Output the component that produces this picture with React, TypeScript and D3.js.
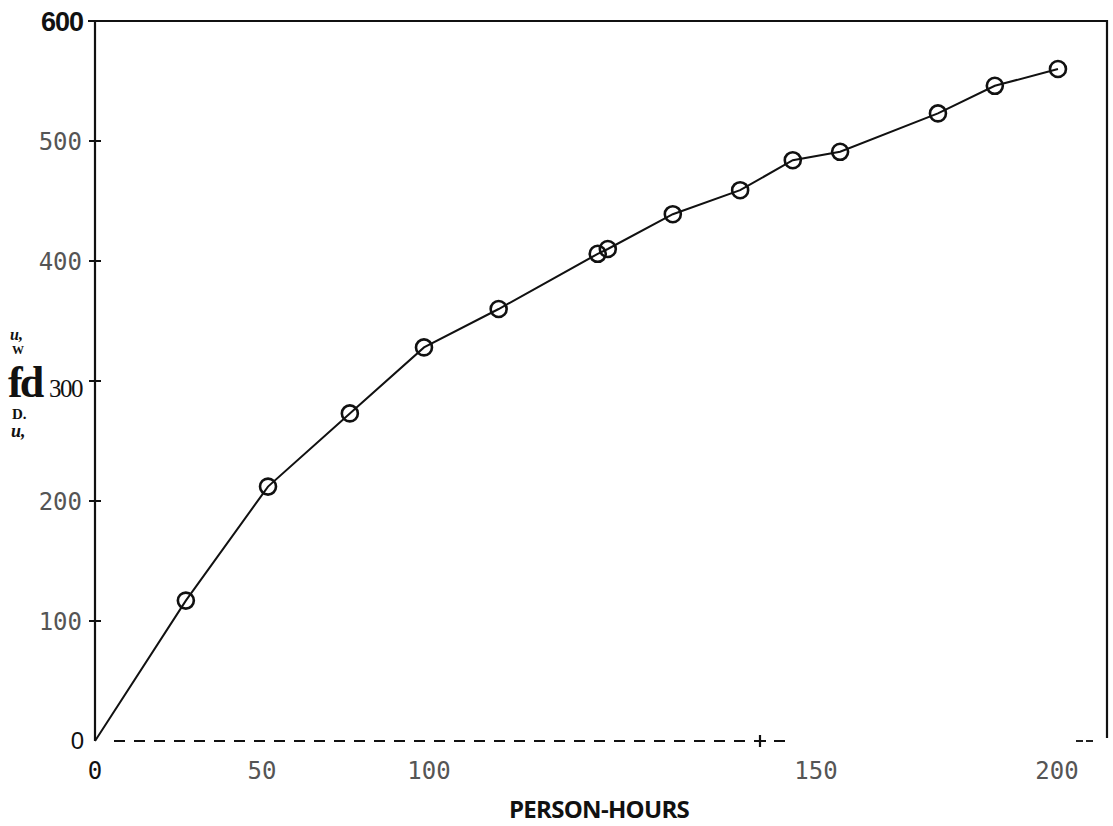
import { useRef, useEffect } from "react";
import * as d3 from "d3";

// x ticks as printed (their spacing on the page is uneven)
const xTicks = [0, 50, 100, 150, 200];
const yTicks = [100, 200, 400, 500];

// points (person-hours, count)
const hours = [27.2, 51.8, 76.3, 98.5, 109, 121.8, 123.1, 131.5, 140.2, 147, 155, 175.3, 187.1, 200.2];
const counts = [117, 212, 273, 328, 360, 406, 410, 439, 459, 484, 491, 523, 546, 560];

const W = 1113;
const H = 826;

const App = () => {
  const svgRef = useRef(null);

  useEffect(() => {
    const svg = d3.select(svgRef.current);
    svg.selectAll("*").remove();

    const left = 95, right = 1107, top = 21, bottom = 741;
    // polylinear to follow the printed tick positions
    const x = d3.scaleLinear().domain(xTicks).range([95, 262, 429, 816, 1057]);
    const y = d3.scaleLinear().domain([0, 600]).range([bottom, top]);

    // frame: left, top, right solid
    svg.append("path")
      .attr("d", `M${left},${bottom} V${top} H${right} V${bottom - 3}`)
      .attr("fill", "none")
      .attr("stroke", "#111")
      .attr("stroke-width", 2.2);
    svg.append("line")
      .attr("x1", left - 7).attr("x2", left)
      .attr("y1", y(600)).attr("y2", y(600))
      .attr("stroke", "#111").attr("stroke-width", 2);

    // dashed bottom axis
    svg.append("line")
      .attr("x1", left + 19).attr("x2", 785)
      .attr("y1", bottom).attr("y2", bottom)
      .attr("stroke", "#111").attr("stroke-width", 2.2)
      .attr("stroke-dasharray", "11,9");
    svg.append("line")
      .attr("x1", 1076).attr("x2", 1094)
      .attr("y1", bottom).attr("y2", bottom)
      .attr("stroke", "#222").attr("stroke-width", 2)
      .attr("stroke-dasharray", "7,3");
    // stray cross on the bottom axis
    svg.append("path")
      .attr("d", `M760,${bottom - 6} V${bottom + 6} M754,${bottom} H766`)
      .attr("stroke", "#111").attr("stroke-width", 2.2);

    // y tick crosses
    svg.selectAll(".ytick")
      .data([100, 200, 300, 400, 500])
      .join("line")
      .attr("x1", left - 6).attr("x2", left + 6)
      .attr("y1", (d) => y(d)).attr("y2", (d) => y(d))
      .attr("stroke", "#111").attr("stroke-width", 2);

    const tickFont = "'DejaVu Sans Mono', monospace";
    svg.selectAll(".ylab")
      .data(yTicks)
      .join("text")
      .attr("x", 82)
      .attr("y", (d) => y(d) + 9)
      .attr("text-anchor", "end")
      .attr("font-family", tickFont)
      .attr("font-size", 24)
      .attr("fill", "#555")
      .text((d) => d);
    svg.append("text")
      .attr("x", 84).attr("y", y(0) + 8)
      .attr("text-anchor", "end")
      .attr("font-family", "Liberation Sans, Arial, sans-serif")
      .attr("font-size", 24)
      .attr("fill", "#111")
      .text("0");
    svg.append("text")
      .attr("x", 83).attr("y", y(600) + 10)
      .attr("text-anchor", "end")
      .attr("font-family", "Liberation Sans, Arial, sans-serif")
      .attr("font-weight", "bold")
      .attr("font-size", 27)
      .attr("letter-spacing", -1)
      .attr("fill", "#111")
      .text("600");

    // the 300 label and garbled axis title
    const g = svg.append("g").attr("font-family", "'Liberation Serif', 'DejaVu Serif', serif").attr("fill", "#111");
    g.append("text").attr("x", 10).attr("y", 340).attr("font-size", 16)
      .attr("font-weight", "bold").attr("font-style", "italic").text("u,");
    g.append("text").attr("x", 12).attr("y", 354).attr("font-size", 12)
      .attr("font-weight", "bold").text("W");
    g.append("text").attr("x", 8).attr("y", 397).attr("font-size", 44)
      .attr("font-weight", "bold").attr("letter-spacing", -3).text("fd");
    g.append("text").attr("x", 82).attr("y", 397).attr("font-size", 25)
      .attr("text-anchor", "end").attr("letter-spacing", -1.5).text("300");
    g.append("text").attr("x", 12).attr("y", 419).attr("font-size", 15)
      .attr("font-weight", "bold").text("D.");
    g.append("text").attr("x", 11).attr("y", 437).attr("font-size", 18)
      .attr("font-weight", "bold").attr("font-style", "italic").text("u,");

    // x tick labels
    svg.selectAll(".xlab")
      .data(xTicks)
      .join("text")
      .attr("x", (d) => x(d))
      .attr("y", 779)
      .attr("text-anchor", "middle")
      .attr("font-family", tickFont)
      .attr("font-size", 24)
      .attr("fill", (d) => (d === 0 ? "#111" : "#555"))
      .text((d) => d);

    svg.append("text")
      .attr("x", 599).attr("y", 818)
      .attr("text-anchor", "middle")
      .attr("font-family", "'Open Sans', sans-serif")
      .attr("font-weight", "bold")
      .attr("font-size", 24)
      .attr("letter-spacing", -0.7)
      .attr("fill", "#111")
      .text("PERSON-HOURS");

    // data line from origin
    const pts: [number, number][] = [[0, 0], ...hours.map((h, i) => [h, counts[i]] as [number, number])];
    const line = d3.line<[number, number]>().x((d) => x(d[0])).y((d) => y(d[1]));
    svg.append("path")
      .datum(pts)
      .attr("d", line)
      .attr("fill", "none")
      .attr("stroke", "#111")
      .attr("stroke-width", 2);

    svg.selectAll(".pt")
      .data(hours)
      .join("circle")
      .attr("cx", (d) => x(d))
      .attr("cy", (d, i) => y(counts[i]))
      .attr("r", 8)
      .attr("fill", "none")
      .attr("stroke", "#111")
      .attr("stroke-width", 2.6);
  }, []);

  return (
    <svg
      ref={svgRef}
      width={W}
      height={H}
      style={{ position: "absolute", left: 0, top: 0, background: "#fff" }}
    />
  );
};

export default App;
